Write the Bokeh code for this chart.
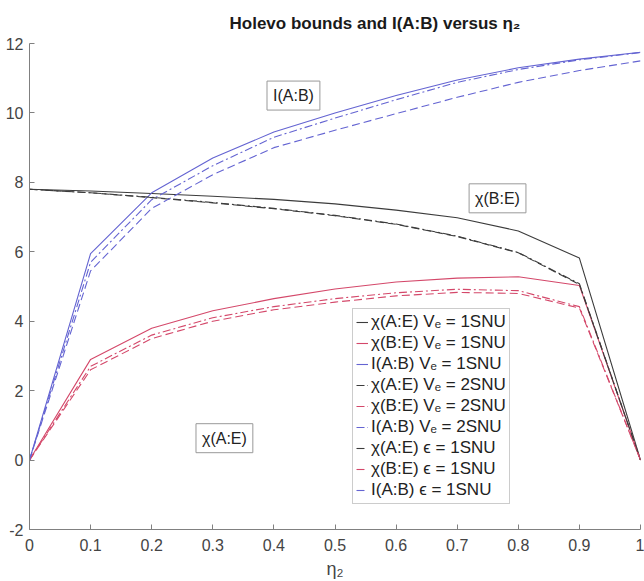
from bokeh.plotting import figure
from bokeh.models import Range1d, FixedTicker, PrintfTickFormatter, Legend, LegendItem, Label
from bokeh.embed import file_html
from bokeh.resources import INLINE

eta = [0.0, 0.1, 0.2, 0.3, 0.4, 0.5, 0.6, 0.7, 0.8, 0.9, 1.0]

# Ve = 1 SNU (solid)
chi_AE_v1 = [7.8, 7.75, 7.68, 7.6, 7.51, 7.38, 7.2, 6.98, 6.6, 5.82, 0.0]
chi_BE_v1 = [0.0, 2.9, 3.8, 4.3, 4.65, 4.93, 5.13, 5.24, 5.28, 5.03, 0.0]
I_AB_v1 = [0.0, 5.95, 7.7, 8.7, 9.45, 10.0, 10.5, 10.95, 11.3, 11.55, 11.75]

# Ve = 2 SNU (dash-dot)
chi_AE_v2 = [7.8, 7.7, 7.57, 7.42, 7.25, 7.05, 6.8, 6.45, 5.98, 5.08, 0.0]
chi_BE_v2 = [0.0, 2.7, 3.6, 4.1, 4.42, 4.65, 4.82, 4.92, 4.88, 4.42, 0.0]
I_AB_v2 = [0.0, 5.7, 7.5, 8.48, 9.3, 9.85, 10.38, 10.88, 11.25, 11.53, 11.74]

# epsilon = 1 SNU (dashed)
chi_AE_e1 = [7.8, 7.7, 7.56, 7.41, 7.24, 7.04, 6.79, 6.44, 5.97, 5.06, 0.0]
chi_BE_e1 = [0.0, 2.6, 3.5, 4.0, 4.33, 4.55, 4.73, 4.83, 4.8, 4.38, 0.0]
I_AB_e1 = [0.0, 5.45, 7.25, 8.22, 9.0, 9.5, 9.98, 10.45, 10.88, 11.22, 11.5]

x_ticks = [0, 0.1, 0.2, 0.3, 0.4, 0.5, 0.6, 0.7, 0.8, 0.9, 1]
y_ticks = [-2, 0, 2, 4, 6, 8, 10, 12]

BLACK = "#3c3c3c"
RED = "#d4486a"
BLUE = "#6464d2"

series = [
    (chi_AE_v1, "χ(A:E) Vₑ = 1SNU", BLACK, "solid"),
    (chi_BE_v1, "χ(B:E) Vₑ = 1SNU", RED, "solid"),
    (I_AB_v1, "I(A:B) Vₑ = 1SNU", BLUE, "solid"),
    (chi_AE_v2, "χ(A:E) Vₑ = 2SNU", BLACK, "8 3 2 3"),
    (chi_BE_v2, "χ(B:E) Vₑ = 2SNU", RED, "8 3 2 3"),
    (I_AB_v2, "I(A:B) Vₑ = 2SNU", BLUE, "8 3 2 3"),
    (chi_AE_e1, "χ(A:E) ϵ = 1SNU", BLACK, "8 4"),
    (chi_BE_e1, "χ(B:E) ϵ = 1SNU", RED, "8 4"),
    (I_AB_e1, "I(A:B) ϵ = 1SNU", BLUE, "8 4"),
]

FONT = "Liberation Sans"

p = figure(width=644, height=581, x_range=Range1d(0, 1), y_range=Range1d(-2, 12),
           output_backend="svg", toolbar_location=None,
           min_border_left=29, min_border_right=4, min_border_top=40, min_border_bottom=51)

p.title.text = "Holevo bounds and I(A:B) versus η₂"
p.title.align = "left"
p.title.offset = 200
p.title.standoff = 22
p.title.text_font = FONT
p.title.text_font_size = "17px"
p.title.text_font_style = "bold"
p.title.text_color = "#1a1a1a"

p.grid.visible = False
p.outline_line_color = None
p.background_fill_color = "white"
p.border_fill_color = "white"

for ax in (p.xaxis, p.yaxis):
    ax.axis_line_color = "#808080"
    ax.major_tick_line_color = "#808080"
    ax.major_tick_in = 5
    ax.major_tick_out = 0
    ax.minor_tick_line_color = None
    ax.major_label_text_font = FONT
    ax.major_label_text_font_size = "16px"
    ax.major_label_text_color = "#444444"
    ax.axis_label_text_font = FONT
    ax.axis_label_text_font_size = "18px"
    ax.axis_label_text_font_style = "normal"
    ax.axis_label_text_color = "#444444"

p.xaxis.ticker = FixedTicker(ticks=x_ticks)
p.yaxis.ticker = FixedTicker(ticks=y_ticks)
p.xaxis.formatter = PrintfTickFormatter(format="%g")
p.yaxis.formatter = PrintfTickFormatter(format="%g")
p.xaxis.axis_label = "η₂"
p.xaxis.major_label_standoff = 9
p.xaxis.axis_label_standoff = 5
p.yaxis.major_label_standoff = 6

items = []
for ys, lab, col, dash in series:
    r = p.line(eta, ys, line_color=col, line_width=1.1, line_dash=dash)
    items.append(LegendItem(label=lab, renderers=[r]))

legend = Legend(items=items, location=(323, 25))
legend.label_text_font = FONT
legend.label_text_font_size = "17px"
legend.label_text_color = "#222222"
legend.glyph_width = 12
legend.glyph_height = 18
legend.label_height = 18
legend.label_standoff = 3
legend.spacing = 1
legend.padding = 3
legend.margin = 0
legend.border_line_color = "#999999"
legend.background_fill_color = "white"
legend.background_fill_alpha = 1.0
p.add_layout(legend)

ann = [
    (0.432, 10.5, "I(A:B)"),
    (0.766, 7.54, "χ(B:E)"),
    (0.319, 0.63, "χ(A:E)"),
]
for ax_, ay_, t in ann:
    p.add_layout(Label(x=ax_, y=ay_, text=t, text_align="center", text_baseline="middle",
                       text_font=FONT, text_font_size="16px", text_color="#222222",
                       border_line_color="#999999", background_fill_color="white",
                       padding=6))

open("out.html", "w").write(file_html(p, INLINE))
